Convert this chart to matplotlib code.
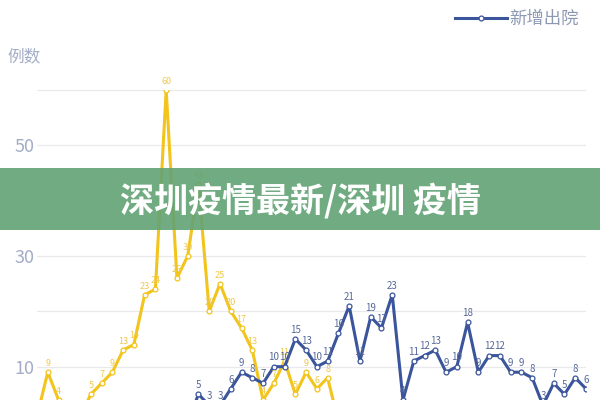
import numpy as np
import matplotlib.pyplot as plt
from matplotlib.patches import Rectangle

plt.rcParams['font.family'] = ['Noto Sans CJK SC', 'DejaVu Sans']

# daily values (low values under the crop are guesses)
confirmed = [1, 9, 4, 1, 1, 5, 7, 9, 13, 14, 23, 24, 60, 26, 30, 43, 20, 25, 20, 17,
             13, 4, 7, 11, 5, 9, 6, 8, 0, 1, 0, 1, 1, 0, 0, 1, 0, 0, 1, 0,
             0, 0, 1, 0, 0, 0, 0, 1, 0, 0, 0, 0]
discharged = [0, 0, 1, 0, 0, 1, 1, 0, 1, 0, 1, 1, 0, 1, 0, 5, 3, 3, 6, 9,
              8, 7, 10, 10, 15, 13, 10, 11, 16, 21, 11, 19, 17, 23, 4, 11, 12, 13, 9, 10,
              18, 9, 12, 12, 9, 9, 8, 3, 7, 5, 8, 6]
grid_vals = [10, 20, 30, 40, 50, 60]
tick_labels = ['10', '', '30', '', '50', '']
legend_name = '新增出院'
y_title = '例数'
banner_text = '深圳疫情最新/深圳 疫情'

yellow = '#f2c41c'
blue = '#3b559c'
label_grey = '#a3adc6'

fig = plt.figure(figsize=(6, 4), dpi=100)
# the chart is cropped at the bottom, so the axes run past the figure edge
ax = fig.add_axes([37 / 600, -22 / 400, 549 / 600, 332 / 400])

days = np.arange(len(discharged))
ax.plot(days, confirmed, color=yellow, lw=2.2, marker='o', ms=3.5,
        mfc='white', mec=yellow, mew=0.9, zorder=3)
ax.plot(days, discharged, color=blue, lw=2.2, marker='o', ms=3.5,
        mfc='white', mec=blue, mew=0.9, zorder=4, label=legend_name)

# labels of points that sit below the crop are not drawn
for x, v in zip(days, confirmed):
    if v >= 3:
        ax.annotate(str(v), (x, v), xytext=(0, 3), textcoords='offset points',
                    ha='center', va='bottom', fontsize=6.5, color='#efc94a', zorder=5)
for x, v in zip(days, discharged):
    if v >= 3:
        ax.annotate(str(v), (x, v), xytext=(0, 3), textcoords='offset points',
                    ha='center', va='bottom', fontsize=7, color='#56689a', zorder=5)

ax.set_xlim(0, len(days) - 1)
ax.set_ylim(0, 60)
ax.set_yticks(grid_vals)
ax.set_yticklabels(tick_labels, color=label_grey, fontsize=13)
ax.tick_params(axis='y', length=0, pad=2)
ax.set_xticks([])
ax.grid(axis='y', color='#e9e9ec', lw=0.9)
ax.set_axisbelow(True)
for s in ax.spines.values():
    s.set_visible(False)

fig.text(7 / 600, 1 - 57 / 400, y_title, color=label_grey, fontsize=12, va='center')

leg = ax.legend(loc='upper right', bbox_to_anchor=(586 / 600, 1 - 3 / 400),
                bbox_transform=fig.transFigure, frameon=False, fontsize=12.5,
                handlelength=3, handletextpad=0.15, borderaxespad=0)
for t in leg.get_texts():
    t.set_color('#8d99b3')

# green banner across the middle
fig.add_artist(Rectangle((0, 170 / 400), 1, 62 / 400, transform=fig.transFigure,
                         facecolor='#62a274', alpha=0.9, edgecolor='none', zorder=10))
fig.text(0.5, 1 - 201 / 400, banner_text, color='white', fontsize=24.5,
         fontweight='bold', ha='center', va='center', zorder=11)

fig.savefig('out.png', dpi=100)
